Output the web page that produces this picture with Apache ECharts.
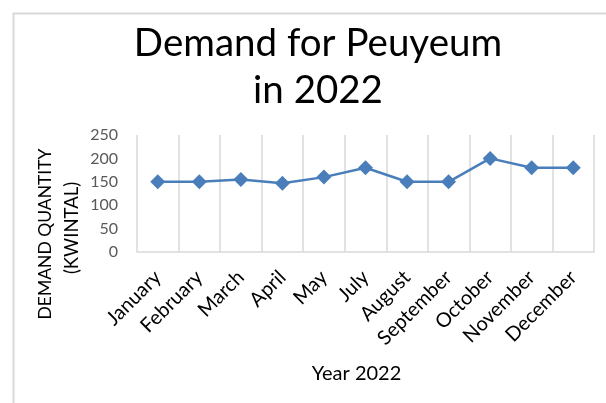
<!DOCTYPE html>
<html>
<head>
<meta charset="utf-8">
<script src="https://cdn.jsdelivr.net/npm/echarts@6/dist/echarts.min.js"></script>
<style>html,body{margin:0;padding:0;background:#fff;}#c{width:606px;height:403px;}</style>
</head>
<body>
<div id="c"></div>
<script>
const months = ['January','February','March','April','May','July','August','September','October','November','December'];
const demand = [150, 150, 155, 147, 160, 180, 150, 150, 200, 180, 180];
const yTicks = { min: 0, max: 250, interval: 50 };
const titleText = 'Demand for Peuyeum\nin 2022';
const xName = 'Year 2022';
const yNameLine1 = 'DEMAND QUANTITY';
const yNameLine2 = '(KWINTAL)';

const FONT = 'Lato, "Open Sans", sans-serif';
const chart = echarts.init(document.getElementById('c'), null, {renderer: 'canvas'});
chart.setOption({
  animation: false,
  backgroundColor: '#fff',
  graphic: [{
    type: 'rect', left: 11, top: 11, silent: true,
    shape: {x: 0, y: 0, width: 700, height: 500},
    style: {fill: 'none', stroke: '#d9d9d9', lineWidth: 2}
  }, {
    type: 'text', x: 45, y: 234, rotation: Math.PI / 2, silent: true,
    style: {text: yNameLine1, fontFamily: FONT, fontSize: 17.5, fill: '#000', align: 'center', verticalAlign: 'middle'}
  }, {
    type: 'text', x: 72, y: 228, rotation: Math.PI / 2, silent: true,
    style: {text: yNameLine2, fontFamily: FONT, fontSize: 18.5, fill: '#000', align: 'center', verticalAlign: 'middle'}
  }],
  title: {
    text: titleText, left: 313, top: 15, textAlign: 'center',
    textStyle: {fontFamily: FONT, fontSize: 38.5, fontWeight: 'normal', color: '#000', lineHeight: 47}
  },
  grid: {left: 137, right: 12, top: 135, bottom: 151, containLabel: false},
  xAxis: {
    type: 'category', data: months, boundaryGap: true,
    name: xName, nameLocation: 'middle', nameGap: 112,
    nameTextStyle: {fontFamily: FONT, fontSize: 20, color: '#000', padding: [0, 18, 0, 0]},
    axisLine: {lineStyle: {color: '#d9d9d9', width: 1.5}},
    axisTick: {show: false},
    axisLabel: {rotate: 45, margin: 22, fontFamily: FONT, fontSize: 20, color: '#000', interval: 0},
    splitLine: {show: true, lineStyle: {color: '#d9d9d9', width: 1.5}}
  },
  yAxis: {
    type: 'value', min: yTicks.min, max: yTicks.max, interval: yTicks.interval,
    axisLine: {show: false}, axisTick: {show: false},
    axisLabel: {margin: 19, fontFamily: FONT, fontSize: 16, color: '#595959'},
    splitLine: {show: false}
  },
  series: [{
    type: 'line', data: demand,
    symbol: 'diamond', symbolSize: 15,
    lineStyle: {color: '#4a7ebb', width: 2.5},
    itemStyle: {color: '#4a7ebb'}
  }]
});
</script>
</body>
</html>
